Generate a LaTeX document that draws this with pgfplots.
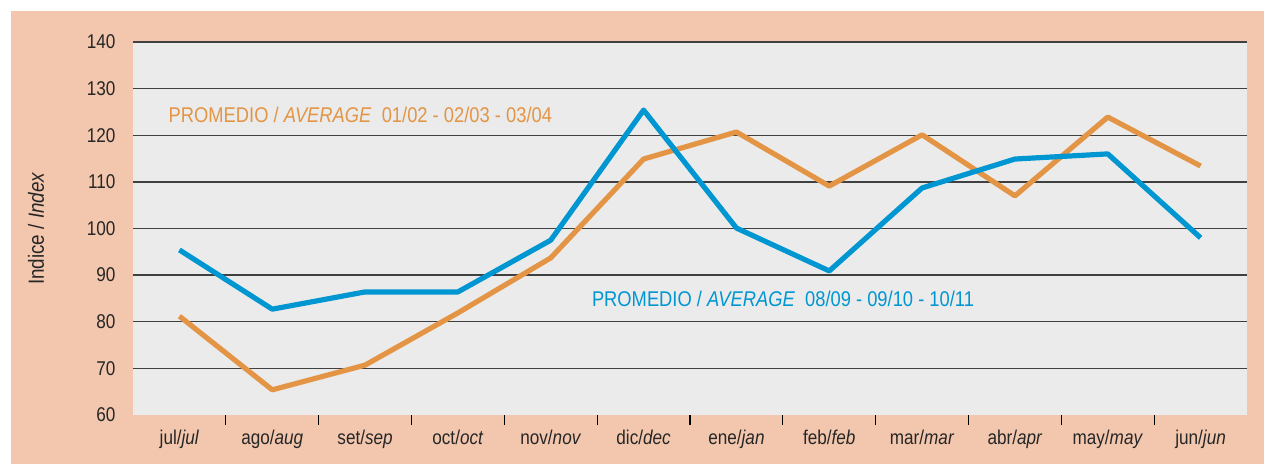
\documentclass[border=0pt]{standalone}
\usepackage{pgfplots}
\pgfplotsset{compat=1.18}
\usepackage{fontspec}
\setmainfont{Liberation Sans}[FakeStretch=0.86]
\definecolor{peach}{HTML}{F2C7AE}
\definecolor{plotbg}{HTML}{EBEBEB}
\definecolor{avgorange}{HTML}{E39545}
\definecolor{avgblue}{HTML}{0096D2}
\begin{document}
\begin{tikzpicture}[x=1bp,y=1bp]
% page frame: 1264x464 px at 0.5bp per px
\fill[white] (0,0) rectangle (632,232);
\fill[peach] (5.5,0) rectangle (632,226.5);
\begin{axis}[
    at={(66.5bp,24.5bp)}, anchor=south west,
    scale only axis, width=557bp, height=186.5bp,
    xmin=-0.5, xmax=11.5, ymin=60, ymax=140,
    axis line style={draw=none},
    axis background/.style={fill=plotbg},
    xtick={0,...,11},
    xticklabels={jul/\textit{jul}, ago/\textit{aug}, set/\textit{sep}, oct/\textit{oct},
        nov/\textit{nov}, dic/\textit{dec}, ene/\textit{jan}, feb/\textit{feb},
        mar/\textit{mar}, abr/\textit{apr}, may/\textit{may}, jun/\textit{jun}},
    minor xtick={0.5,1.5,...,10.5},
    xtick pos=lower, ytick pos=left,
    xtick style={draw=none},
    minor x tick style={draw=black, line width=0.6pt},
    minor tick length=5bp,
    tick align=outside,
    ytick={70,80,...,140},
    extra y ticks={60},
    extra y tick style={grid=none},
    ytick style={draw=none},
    ymajorgrids,
    major grid style={draw=black!75, line width=0.7pt},
    ticklabel style={font=\fontsize{10}{11}\selectfont, text=black!85},
    xticklabel style={yshift=0bp},
    yticklabel style={xshift=-1bp},
    /pgf/number format/assume math mode=true,
    ylabel={Indice / \textit{Index}},
    ylabel style={font=\fontsize{11}{12}\selectfont, text=black!85, yshift=6bp},
    clip=false,
]
\addplot[avgorange, line width=2.6pt, line join=round] coordinates {
    (0,81.2) (1,65.4) (2,70.7) (3,81.9) (4,93.7) (5,114.9)
    (6,120.7) (7,109.1) (8,120.1) (9,107.0) (10,123.9) (11,113.4)
};
\addplot[avgblue, line width=2.6pt, line join=round] coordinates {
    (0,95.4) (1,82.7) (2,86.4) (3,86.4) (4,97.5) (5,125.4)
    (6,100.1) (7,90.9) (8,108.7) (9,114.9) (10,116.0) (11,98.0)
};
\node[anchor=west, text=avgorange, font=\fontsize{10.7}{12}\selectfont, inner sep=0pt]
    at (axis cs:-0.12,124.3) {PROMEDIO / \textit{AVERAGE}\ \ 01/02 - 02/03 - 03/04};
\node[anchor=west, text=avgblue, font=\fontsize{10.7}{12}\selectfont, inner sep=0pt]
    at (axis cs:4.44,84.9) {PROMEDIO / \textit{AVERAGE}\ \ 08/09 - 09/10 - 10/11};
\end{axis}
\end{tikzpicture}
\end{document}
